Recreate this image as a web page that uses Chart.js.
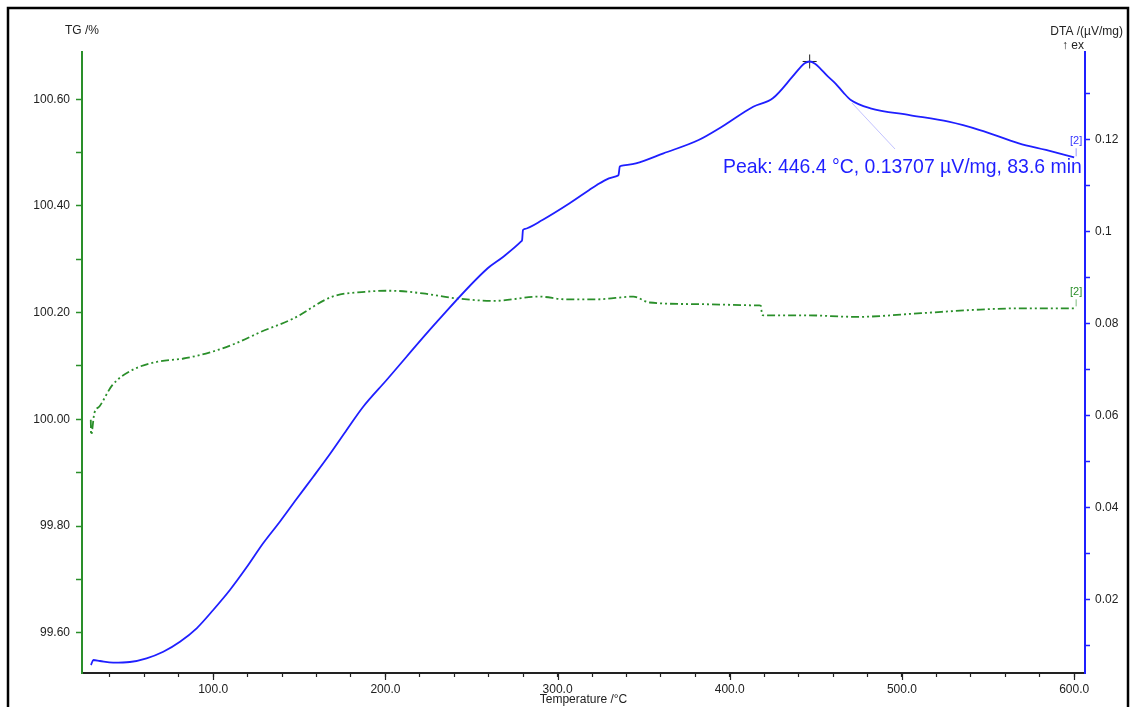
<!DOCTYPE html>
<html>
<head>
<meta charset="utf-8">
<script src="https://cdn.jsdelivr.net/npm/chart.js"></script>
<style>
  body { margin: 0; background: #fff; }
  #wrap { width: 1131px; height: 707px; }
</style>
</head>
<body>
<div id="wrap"><canvas id="myChart" width="1131" height="707"></canvas></div>
<script>
// TG / DTA curves

// temperature axis
var tempTicks = [100, 200, 300, 400, 500, 600];
var tgTicks = [99.6, 99.8, 100.0, 100.2, 100.4, 100.6];
var dtaTicks = [0.02, 0.04, 0.06, 0.08, 0.10, 0.12];

// TG curve (green, %)
var tgTemp = [28.9, 29.1, 31.0, 33.9, 41.4, 52.7, 67.7, 82.8, 97.7, 112.8, 127.8, 146.6, 169.2, 188.0, 203.0,
  221.8, 240.6, 263.1, 289.4, 304.5, 323.3, 344.0, 353.4, 379.7, 417.2, 418.0, 418.8, 419.6, 443.6, 473.6, 511.2, 541.3, 567.6, 600.0];
var tgValues = [99.999, 99.971, 100.012, 100.024, 100.064, 100.092, 100.108, 100.114, 100.125, 100.142, 100.164, 100.189, 100.230, 100.239, 100.241,
  100.236, 100.227, 100.222, 100.230, 100.225, 100.225, 100.230, 100.219, 100.216, 100.2135, 100.213, 100.196, 100.195, 100.195, 100.192, 100.199, 100.205, 100.208, 100.208];

// DTA curve (blue, uV/mg)
var dtaTemp = [29.0, 30.4, 34.2, 41.9, 51.6, 61.3, 71.0, 80.7, 90.4, 100.0, 109.7, 119.4, 129.0, 138.7, 148.4, 158.1, 167.8, 177.5, 187.1, 200.7,
  230.0, 259.4, 268.5, 279.0, 279.4, 279.9, 280.5, 291.2, 307.0, 318.4, 322.8, 329.8, 335.0, 335.4, 336.1, 336.7, 345.5, 361.5, 381.9, 395.4, 413.6, 425.0, 436.4, 441.0, 443.5, 446.4,
  449.5, 452.2, 456.5, 461.3, 466.0, 470.3, 481.7, 504.4, 527.1, 545.2, 567.9, 583.6, 600.0];
var dtaValues = [0.00587, 0.00696, 0.00674, 0.00637, 0.00652, 0.00733, 0.00876, 0.01093, 0.01385, 0.01783, 0.02217, 0.02710, 0.03233, 0.03702, 0.04196, 0.0468, 0.05174, 0.05696, 0.06202, 0.06783,
  0.0805, 0.09211, 0.09463, 0.09800, 0.09826, 0.10043, 0.10060, 0.10261, 0.10624, 0.10913, 0.11022, 0.11167, 0.11225, 0.11239, 0.1142, 0.11435, 0.11493, 0.11711, 0.12, 0.12289, 0.12724, 0.12907, 0.13376, 0.1358, 0.1367, 0.13707,
  0.1366, 0.1357, 0.1340, 0.13233, 0.1303, 0.12870, 0.12689, 0.12543, 0.12398, 0.12217, 0.11928, 0.11783, 0.11624];

// peak marker
var peakTemp = [446.4];
var peakDta = [0.13707];
var peakText = 'Peak: 446.4 °C, 0.13707 µV/mg, 83.6 min';

var green = '#2a8f2a';
var blue = '#1f1fff';
var textCol = '#222';
var FONT = '"Liberation Sans", Arial, sans-serif';

function toPoints(xs, ys) {
  return xs.map(function (x, i) { return { x: x, y: ys[i] }; });
}

// majors plus the minor subdivisions that fall inside the axis range
function withMinors(majors, sub, min, max) {
  var step = (majors[1] - majors[0]) / sub;
  var v = majors[0] - step * Math.floor((majors[0] - min) / step + 1e-9);
  var out = [];
  for (; v <= max + 1e-9; v += step) out.push({ value: +v.toFixed(6) });
  return out;
}
function isMajor(v, majors) {
  return majors.some(function (m) { return Math.abs(m - v) < 1e-6; });
}

var ranges = {
  x: [23.8, 606.3],
  tg: [99.5245, 100.6885],
  dta: [0.00413, 0.13913]
};

var decorations = {
  id: 'decorations',
  beforeDraw: function (chart) {
    var c = chart.ctx;
    c.save();
    c.fillStyle = '#fff';
    c.fillRect(0, 0, chart.width, chart.height);
    c.restore();
  },
  afterDraw: function (chart) {
    var c = chart.ctx;
    var a = chart.chartArea;
    var xs = chart.scales.x, ys = chart.scales.dta, ts = chart.scales.tg;
    c.save();

    // longer major ticks on the temperature axis
    c.strokeStyle = textCol;
    c.lineWidth = 1.2;
    tempTicks.forEach(function (t) {
      var px = Math.round(xs.getPixelForValue(t)) + 0.5;
      c.beginPath(); c.moveTo(px, a.bottom); c.lineTo(px, a.bottom + 7); c.stroke();
    });

    // axis titles
    c.fillStyle = textCol;
    c.font = '12px ' + FONT;
    c.textBaseline = 'middle';
    c.textAlign = 'center';
    c.fillText('TG /%', a.left, 31);
    c.fillText('Temperature /°C', (a.left + a.right) / 2, 700);
    c.textAlign = 'right';
    c.fillText('DTA /(µV/mg)', 1123, 32);
    c.fillText('↑ ex', a.right - 1, 46);

    // peak leader line and label
    c.strokeStyle = 'rgba(120,120,255,0.45)';
    c.lineWidth = 1;
    c.beginPath(); c.moveTo(852, 103); c.lineTo(895, 149); c.stroke();
    c.fillStyle = blue;
    c.textAlign = 'left';
    c.textBaseline = 'alphabetic';
    var size = 17;
    c.font = size + 'px ' + FONT;
    var w = c.measureText(peakText).width;
    size = size * 359 / w;
    c.font = size.toFixed(2) + 'px ' + FONT;
    c.fillText(peakText, 723, 173);

    // curve end labels [2]
    c.font = '11px ' + FONT;
    c.textAlign = 'center';
    c.textBaseline = 'middle';
    var bEndX = xs.getPixelForValue(dtaTemp[dtaTemp.length - 1]);
    var bEndY = ys.getPixelForValue(dtaValues[dtaValues.length - 1]);
    c.fillStyle = '#3535ff';
    c.fillText('[2]', bEndX + 2, bEndY - 16);
    c.strokeStyle = 'rgba(80,80,255,0.6)';
    c.beginPath(); c.moveTo(bEndX + 2, bEndY - 9); c.lineTo(bEndX + 2, bEndY - 1); c.stroke();
    var gEndX = xs.getPixelForValue(tgTemp[tgTemp.length - 1]);
    var gEndY = ts.getPixelForValue(tgValues[tgValues.length - 1]);
    c.fillStyle = green;
    c.fillText('[2]', gEndX + 2, gEndY - 16);
    c.strokeStyle = 'rgba(42,143,42,0.6)';
    c.beginPath(); c.moveTo(gEndX + 2, gEndY - 9); c.lineTo(gEndX + 2, gEndY - 2); c.stroke();

    // outer frame
    c.strokeStyle = '#000';
    c.lineWidth = 2.5;
    c.strokeRect(8, 8, 1120, 730);
    c.restore();
  }
};

var ctx = document.getElementById('myChart').getContext('2d');
var myChart = new Chart(ctx, {
  type: 'line',
  data: {
    datasets: [{
      label: 'DTA',
      data: toPoints(dtaTemp, dtaValues),
      yAxisID: 'dta',
      borderColor: blue,
      borderWidth: 1.8,
      pointRadius: 0,
      cubicInterpolationMode: 'monotone',
      borderJoinStyle: 'round',
      fill: false
    }, {
      label: 'TG',
      data: toPoints(tgTemp, tgValues),
      yAxisID: 'tg',
      borderColor: green,
      borderWidth: 1.8,
      borderDash: [8, 3, 2, 3, 2, 3],
      pointRadius: 0,
      cubicInterpolationMode: 'monotone',
      fill: false
    }, {
      label: 'Peak',
      type: 'scatter',
      data: toPoints(peakTemp, peakDta),
      yAxisID: 'dta',
      pointStyle: 'cross',
      pointRadius: 7,
      borderColor: '#222',
      borderWidth: 1,
      showLine: false
    }]
  },
  options: {
    responsive: false,
    animation: false,
    events: [],
    layout: { padding: { top: 52, left: 0, right: 0, bottom: 0 } },
    plugins: { legend: { display: false }, tooltip: { enabled: false }, title: { display: false } },
    scales: {
      x: {
        type: 'linear',
        min: ranges.x[0],
        max: ranges.x[1],
        afterFit: function (s) { s.height = 34; },
        afterBuildTicks: function (s) { s.ticks = withMinors(tempTicks, 5, ranges.x[0], ranges.x[1]); },
        ticks: {
          autoSkip: false,
          maxRotation: 0,
          padding: 5,
          color: textCol,
          font: { size: 12, family: FONT },
          callback: function (v) { return isMajor(v, tempTicks) ? v.toFixed(1) : ''; }
        },
        grid: { drawOnChartArea: false, tickLength: 4, tickColor: textCol, tickWidth: 1.2 },
        border: { color: textCol, width: 2 }
      },
      tg: {
        type: 'linear',
        position: 'left',
        min: ranges.tg[0],
        max: ranges.tg[1],
        afterFit: function (s) { s.width = 82; },
        afterBuildTicks: function (s) { s.ticks = withMinors(tgTicks, 2, ranges.tg[0], ranges.tg[1]); },
        ticks: {
          autoSkip: false,
          padding: 6,
          color: textCol,
          font: { size: 12, family: FONT },
          callback: function (v) { return isMajor(v, tgTicks) ? v.toFixed(2) : ''; }
        },
        grid: { drawOnChartArea: false, tickLength: 6, tickColor: green, tickWidth: 1.5 },
        border: { color: green, width: 2 }
      },
      dta: {
        type: 'linear',
        position: 'right',
        min: ranges.dta[0],
        max: ranges.dta[1],
        afterFit: function (s) { s.width = 46; },
        afterBuildTicks: function (s) { s.ticks = withMinors(dtaTicks, 2, ranges.dta[0], ranges.dta[1]); },
        ticks: {
          autoSkip: false,
          padding: 5,
          color: textCol,
          font: { size: 12, family: FONT },
          callback: function (v) { return isMajor(v, dtaTicks) ? String(+v.toFixed(2)) : ''; }
        },
        grid: { drawOnChartArea: false, tickLength: 5, tickColor: blue, tickWidth: 1.5 },
        border: { color: blue, width: 2 }
      }
    }
  },
  plugins: [decorations]
});
</script>
</body>
</html>
